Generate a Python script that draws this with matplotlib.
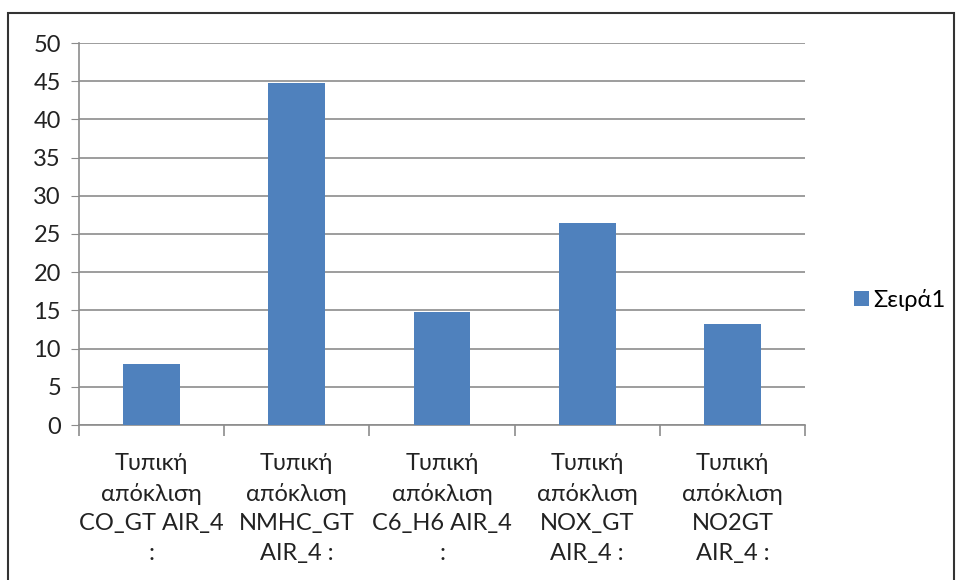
import matplotlib.pyplot as plt
from matplotlib.patches import Rectangle
import numpy as np

categories = [
    "Τυπική\nαπόκλιση\nCO_GT AIR_4\n:",
    "Τυπική\nαπόκλιση\nNMHC_GT\nAIR_4 :",
    "Τυπική\nαπόκλιση\nC6_H6 AIR_4\n:",
    "Τυπική\nαπόκλιση\nNOX_GT\nAIR_4 :",
    "Τυπική\nαπόκλιση\nNO2GT\nAIR_4 :",
]
values = [8.0, 44.8, 14.8, 26.4, 13.2]
series_name = "Σειρά1"
yticks = list(range(0, 55, 5))

plt.rcParams['font.family'] = ['Lato', 'DejaVu Sans']

fig = plt.figure(figsize=(9.58, 5.80), dpi=100)
ax = fig.add_axes([79 / 958, 155 / 580, 726 / 958, 382 / 580])

x = np.arange(len(values))
ax.bar(x, values, width=0.39, color="#4F81BD", label=series_name, zorder=3)

ax.set_xlim(-0.5, len(values) - 0.5)
ax.set_ylim(0, 50)
ax.set_yticks(yticks)
ax.yaxis.grid(True, color="#8C8C8C", linewidth=1.2, zorder=0)
ax.tick_params(axis="y", length=6, color="#8C8C8C", labelsize=17,
               labelcolor="#222222", pad=7)

ax.set_xticks(x)
ax.set_xticklabels(categories, fontsize=17, color="#222222", linespacing=1.5)
ax.tick_params(axis="x", which="major", length=0, pad=20)
ax.set_xticks(np.arange(-0.5, len(values)), minor=True)
ax.tick_params(axis="x", which="minor", length=8, color="#8C8C8C", width=1.2)

for side in ["top", "right"]:
    ax.spines[side].set_visible(False)
for side in ["left", "bottom"]:
    ax.spines[side].set_color("#8C8C8C")
    ax.spines[side].set_linewidth(1.2)

fig.legend(loc="center left", bbox_to_anchor=(845 / 958, 1 - 300 / 580),
           frameon=False, fontsize=17, handlelength=0.6, handleheight=0.6,
           handletextpad=0.2, borderaxespad=0)

# outer chart border
fig.patches.append(Rectangle((8 / 958, -0.05), 946 / 958, 1.05 - 13 / 580,
                             transform=fig.transFigure, fill=False,
                             edgecolor="#333333", linewidth=1.5))

fig.savefig("out.png", dpi=100)
